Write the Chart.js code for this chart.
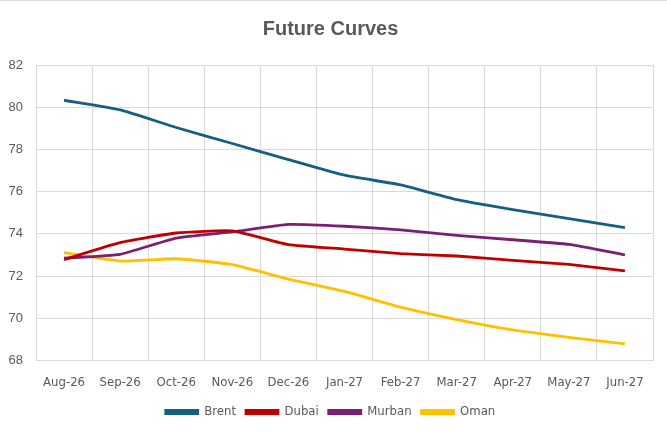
<!DOCTYPE html>
<html>
<head>
<meta charset="utf-8">
<script src="https://cdn.jsdelivr.net/npm/chart.js@4"></script>
<style>
  html, body { margin: 0; padding: 0; background: #fff; }
  #wrap { width: 667px; height: 431px; border-top: 1px solid #d9d9d9; }
</style>
</head>
<body>
<div id="wrap"><canvas id="curves"></canvas></div>
<script>
const months = ["Aug-26", "Sep-26", "Oct-26", "Nov-26", "Dec-26", "Jan-27", "Feb-27", "Mar-27", "Apr-27", "May-27", "Jun-27"];
const brent  = [80.33, 79.87, 79.04, 78.28, 77.52, 76.78, 76.32, 75.62, 75.15, 74.72, 74.29];
const dubai  = [72.78, 73.58, 74.04, 74.14, 73.49, 73.28, 73.06, 72.95, 72.74, 72.55, 72.25];
const murban = [72.85, 73.03, 73.80, 74.09, 74.45, 74.36, 74.19, 73.93, 73.72, 73.50, 73.01];
const oman   = [73.11, 72.71, 72.82, 72.54, 71.86, 71.27, 70.53, 69.94, 69.45, 69.10, 68.79];
const yTicks = [68, 70, 72, 74, 76, 78, 80, 82];

const grey = "#595959";
const gridCol = "#d9d9d9";
const narrow = "'Liberation Sans Narrow', 'DejaVu Sans Condensed', 'Roboto', sans-serif";

function series(label, data, color) {
  return {
    label: label,
    data: data,
    borderColor: color,
    backgroundColor: color,
    borderWidth: 2.8,
    pointRadius: 0,
    tension: 0.15,
    fill: false,
  };
}

new Chart(document.getElementById("curves"), {
  type: "line",
  data: {
    labels: months,
    datasets: [
      series("Brent", brent, "#156082"),
      series("Dubai", dubai, "#c00000"),
      series("Murban", murban, "#7a1f73"),
      series("Oman", oman, "#ffc000"),
    ],
  },
  options: {
    responsive: true,
    maintainAspectRatio: false,
    animation: false,
    layout: { padding: { left: 8, right: 14, top: 0, bottom: 3.5 } },
    plugins: {
      title: {
        display: true,
        text: "Future Curves",
        color: grey,
        font: { family: "'Liberation Sans', Arial, sans-serif", size: 20, weight: "bold" },
        padding: { top: 16, bottom: 24 },
      },
      legend: {
        position: "bottom",
        labels: {
          color: grey,
          font: { family: narrow, size: 13 },
          boxWidth: 32,
          boxHeight: 3,
          padding: 10,
        },
      },
      tooltip: { enabled: false },
    },
    scales: {
      x: {
        offset: true,
        grid: { offset: true, color: gridCol, drawTicks: false },
        border: { color: gridCol },
        ticks: { color: grey, font: { family: narrow, size: 13 }, padding: 14, maxRotation: 0, autoSkip: false },
        afterFit: (axis) => { axis.height = 35; },
      },
      y: {
        min: yTicks[0],
        max: yTicks[yTicks.length - 1],
        afterBuildTicks: (axis) => { axis.ticks = yTicks.map((v) => ({ value: v })); },
        grid: { color: gridCol, drawTicks: false },
        border: { color: gridCol },
        ticks: { color: grey, font: { family: "'Liberation Sans', Arial, sans-serif", size: 13 }, padding: 13 },
        afterFit: (axis) => { axis.width = 28; },
      },
    },
  },
});
</script>
</body>
</html>
